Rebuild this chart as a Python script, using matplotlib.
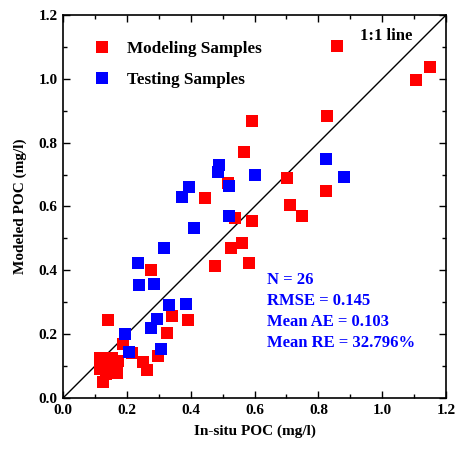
import numpy as np
import matplotlib
matplotlib.use('Agg')
import matplotlib.pyplot as plt
from matplotlib.ticker import MultipleLocator

plt.rcParams['font.family'] = 'Liberation Serif'
plt.rcParams['font.weight'] = 'bold'

# Modeling samples (red)
mod_insitu = [0.858, 1.149, 1.106, 0.828, 0.591, 0.566, 0.701, 0.824, 0.711, 0.748,
              0.591, 0.560, 0.584, 0.518, 0.445, 0.538, 0.525, 0.477, 0.275, 0.340,
              0.393, 0.142, 0.327, 0.189, 0.216, 0.298, 0.250, 0.264, 0.124,
              0.116, 0.154, 0.116, 0.160, 0.135, 0.169, 0.141, 0.172]
mod_model = [1.104, 1.038, 0.996, 0.884, 0.869, 0.771, 0.688, 0.650, 0.605, 0.570,
             0.555, 0.487, 0.424, 0.674, 0.628, 0.565, 0.469, 0.414, 0.401, 0.258,
             0.244, 0.245, 0.203, 0.168, 0.140, 0.133, 0.114, 0.088, 0.051,
             0.125, 0.125, 0.091, 0.100, 0.075, 0.078, 0.110, 0.116]

# Testing samples (blue)
test_insitu = [0.490, 0.487, 0.521, 0.601, 0.824, 0.881, 0.396, 0.374, 0.521, 0.410,
               0.316, 0.236, 0.239, 0.286, 0.333, 0.386, 0.293, 0.275, 0.194, 0.208,
               0.306]
test_model = [0.730, 0.709, 0.665, 0.699, 0.748, 0.693, 0.662, 0.630, 0.571, 0.534,
              0.469, 0.422, 0.354, 0.357, 0.291, 0.294, 0.246, 0.218, 0.200, 0.145,
              0.153]

stats = ['N = 26', 'RMSE = 0.145', 'Mean AE = 0.103', 'Mean RE = 32.796%']

fig = plt.figure(figsize=(4.57, 4.49), dpi=100)
ax = fig.add_axes([0.138, 0.1136, 0.838, 0.853])

ax.plot([0, 1.2], [0, 1.2], color='black', lw=1.0, zorder=1)
ax.plot(mod_insitu, mod_model, 's', color='red', ms=9, mew=0, ls='none',
        label='Modeling Samples', zorder=2)
ax.plot(test_insitu, test_model, 's', color='blue', ms=9, mew=0, ls='none',
        label='Testing Samples', zorder=3)

ax.set_xlim(0, 1.2)
ax.set_ylim(0, 1.2)
ax.xaxis.set_major_locator(MultipleLocator(0.2))
ax.xaxis.set_minor_locator(MultipleLocator(0.1))
ax.yaxis.set_major_locator(MultipleLocator(0.2))
ax.yaxis.set_minor_locator(MultipleLocator(0.1))
ax.tick_params(which='both', direction='in', top=True, right=True,
               labelsize=11, width=1.0)
ax.tick_params(which='major', length=5, pad=4)
ax.tick_params(which='minor', length=3)
for s in ax.spines.values():
    s.set_linewidth(1.2)

ax.set_xlabel('In-situ POC (mg/l)', fontsize=11, fontweight='bold', labelpad=6)
ax.set_ylabel('Modeled POC (mg/l)', fontsize=11, fontweight='bold', labelpad=8)

ax.legend(loc='upper left', frameon=False, fontsize=12.3, handletextpad=1.1,
          labelspacing=0.85, borderaxespad=0.9, handlelength=0.8,
          bbox_to_anchor=(0.025, 0.99))

ax.text(0.93, 1.134, '1:1 line', fontsize=12, fontweight='bold',
        ha='left', va='center')

for i, line in enumerate(stats):
    ax.text(0.64, 0.37 - i * 0.066, line, fontsize=12, fontweight='bold',
            color='blue', ha='left', va='center')

fig.savefig('out.png', dpi=100)
